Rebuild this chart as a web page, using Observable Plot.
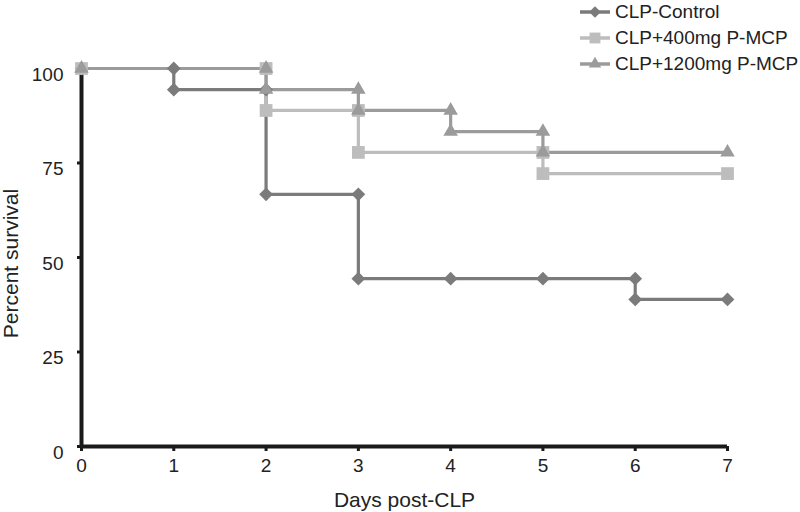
<!DOCTYPE html>
<html>
<head>
<meta charset="utf-8">
<script src="https://cdn.jsdelivr.net/npm/d3@7"></script>
<script src="https://cdn.jsdelivr.net/npm/@observablehq/plot@0.6"></script>
<style>
  html, body { margin: 0; padding: 0; background: #fff; }
  #wrap { position: relative; width: 800px; height: 512px; font-family: "Liberation Sans", Arial, sans-serif; }
  #legend { position: absolute; left: 578px; top: -1px; font-size: 19px; color: #222; }
  .item { display: flex; align-items: center; height: 26px; }
  .item svg { margin-right: 3px; }
</style>
</head>
<body>
<div id="wrap">
  <div id="chart"></div>
  <div id="legend"></div>
</div>
<script>
// Series (Kaplan-Meier step points)
const seriesNames = ["CLP-Control", "CLP+400mg P-MCP", "CLP+1200mg P-MCP"];
const seriesColors = ["#7b7b7b", "#bdbdbd", "#9b9b9b"];
const seriesSymbols = ["diamond2", "square", "triangle"];
const seriesR = [6.2, 7.2, 5.4];

const controlDays = [0, 1, 1, 2, 2, 3, 3, 4, 5, 6, 6, 7];
const controlSurv = [100, 100, 94.4, 94.4, 66.7, 66.7, 44.4, 44.4, 44.4, 44.4, 38.9, 38.9];
const mcp400Days = [0, 2, 2, 3, 3, 5, 5, 7];
const mcp400Surv = [100, 100, 88.9, 88.9, 77.8, 77.8, 72.2, 72.2];
const mcp1200Days = [0, 2, 2, 3, 3, 4, 4, 5, 5, 7];
const mcp1200Surv = [100, 100, 94.4, 94.4, 88.9, 88.9, 83.3, 83.3, 77.8, 77.8];

const xTicks = [0, 1, 2, 3, 4, 5, 6, 7];
const yTicks = [0, 25, 50, 75, 100];

const allDays = [controlDays, mcp400Days, mcp1200Days];
const allSurv = [controlSurv, mcp400Surv, mcp1200Surv];
const tables = allDays.map((ds, i) => ds.map((d, j) => ({day: d, surv: allSurv[i][j], series: seriesNames[i]})));

const lineMarks = tables.map((t, i) => Plot.line(t, {x: "day", y: "surv", stroke: seriesColors[i], strokeWidth: 3.2}));
const dotMarks = tables.map((t, i) => Plot.dot(t, {x: "day", y: "surv", symbol: () => seriesSymbols[i], r: seriesR[i], fill: seriesColors[i], stroke: "none"}));

const chart = Plot.plot({
  width: 800,
  height: 512,
  marginLeft: 81,
  marginRight: 73,
  marginTop: 68,
  marginBottom: 66,
  style: {fontFamily: "Liberation Sans, Arial, sans-serif", fontSize: "19px", color: "#222", background: "#fff"},
  x: {domain: [0, 7]},
  y: {domain: [0, 100]},
  marks: [
    Plot.axisX({ticks: xTicks, tickFormat: d3.format("d"), tickSize: 5, tickPadding: 7, strokeWidth: 3, stroke: "#1a1a1a", fill: "#222", label: null, fontSize: 19}),
    Plot.axisY({ticks: yTicks, tickFormat: () => "", tickSize: 4, strokeWidth: 3, stroke: "#1a1a1a", label: null}),
    Plot.axisY({ticks: yTicks, tickFormat: d3.format("d"), tickSize: 0, tickPadding: 18, fill: "#222", label: null, fontSize: 19, dy: 6}),
    Plot.ruleY([0], {stroke: "#1a1a1a", strokeWidth: 4}),
    Plot.ruleX([0], {stroke: "#1a1a1a", strokeWidth: 4}),
    ...lineMarks,
    ...dotMarks,
    Plot.text(["Days post-CLP"], {frameAnchor: "bottom", lineAnchor: "middle", dy: 54, fontSize: 21, fill: "#222"}),
    Plot.text(["Percent survival"], {frameAnchor: "left", textAnchor: "middle", lineAnchor: "middle", dx: -70, dy: 6, rotate: -90, fontSize: 21, fill: "#222"})
  ]
});
document.getElementById("chart").appendChild(chart);

// Legend
const legend = d3.select("#legend");
seriesNames.forEach((name, i) => {
  const item = legend.append("div").attr("class", "item");
  const svg = item.append("svg").attr("width", 34).attr("height", 20);
  svg.append("line").attr("x1", 2).attr("x2", 32).attr("y1", 10).attr("y2", 10)
    .attr("stroke", seriesColors[i]).attr("stroke-width", 3.5);
  const sym = {diamond2: d3.symbolDiamond2, square: d3.symbolSquare, triangle: d3.symbolTriangle}[seriesSymbols[i]];
  const r = seriesR[i] * 0.85;
  svg.append("path").attr("transform", "translate(17,10)")
    .attr("d", d3.symbol(sym, Math.PI * r * r)()).attr("fill", seriesColors[i]);
  item.append("span").text(name);
});
</script>
</body>
</html>
